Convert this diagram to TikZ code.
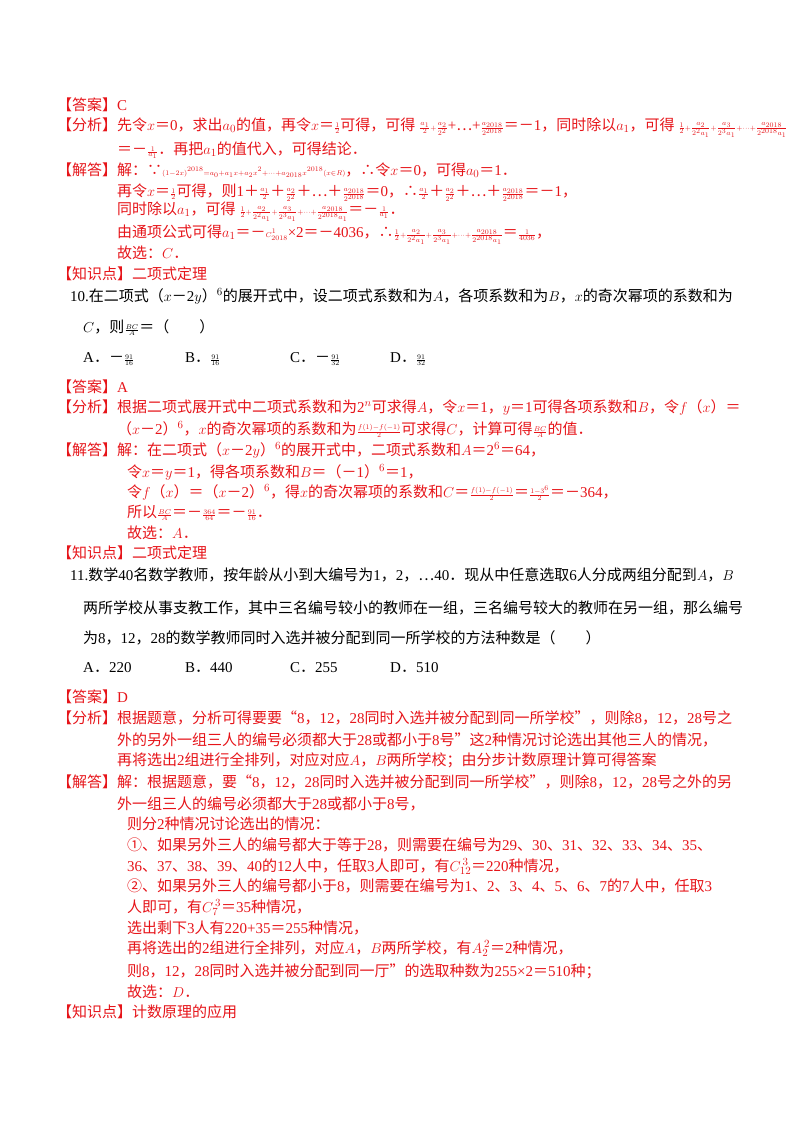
\documentclass[tikz,border=0pt]{standalone}
\usepackage{fontspec}
\setmainfont{Liberation Serif}
\newfontfamily\cjk{Noto Sans CJK SC}
\newXeTeXintercharclass\cjkcls
\def\setcls#1#2{\count255=#1 \loop\XeTeXcharclass\count255=\cjkcls\ifnum\count255<#2 \advance\count255 1 \repeat}
\setcls{"3000}{"303F}
\setcls{"4E00}{"9FFF}
\setcls{"FF00}{"FFEF}
\setcls{"2460}{"2473}
\setcls{"201C}{"201D}
\setcls{"2026}{"2026}
\setcls{"2234}{"2235}
\XeTeXinterchartoks 0 \cjkcls {\cjk}
\XeTeXinterchartoks 4095 \cjkcls {\cjk}
\XeTeXinterchartoks \cjkcls 0 {\rmfamily}
\XeTeXinterchartoks \cjkcls 4095 {\rmfamily}
\XeTeXinterchartokenstate=1
\definecolor{ans}{RGB}{230,20,25}
\tikzset{tx/.style={anchor=base west,inner sep=0pt,font=\fontsize{15}{16}\selectfont},
 an/.style={tx,text=ans}}
\newcommand\smf[1]{$\scriptscriptstyle #1$}
\begin{document}
\begin{tikzpicture}[x=1pt,y=-1pt]
\useasboundingbox (0,0) rectangle (800,1132);
\node[an] (a1) at (57,110) {【答案】C};
\node[an] (a2) at (57,130) {【分析】先令$x$＝0，求出$a_0$的值，再令$x$＝\smf{\frac12}可得，可得 \smf{\frac{a_1}{2}+\frac{a_2}{2^2}}+…+\smf{\frac{a_{2018}}{2^{2018}}}＝－1，同时除以$a_1$，可得 \smf{\frac12+\frac{a_2}{2^2a_1}+\frac{a_3}{2^3a_1}+\cdots+\frac{a_{2018}}{2^{2018}a_1}}};
\node[an] (a3) at (117,154) {＝－\smf{\frac{1}{a_1}}．再把$a_1$的值代入，可得结论．};
\node[an] (a4) at (57,175) {【解答】解：∵\smf{(1-2x)^{2018}=a_0+a_1x+a_2x^2+\cdots+a_{2018}x^{2018}(x\in R)}，∴令$x$＝0，可得$a_0$＝1．};
\node[an] (a5) at (117,196) {再令$x$＝\smf{\frac12}可得，则1＋\smf{\frac{a_1}{2}}＋\smf{\frac{a_2}{2^2}}＋…＋\smf{\frac{a_{2018}}{2^{2018}}}＝0，∴\smf{\frac{a_1}{2}}＋\smf{\frac{a_2}{2^2}}＋…＋\smf{\frac{a_{2018}}{2^{2018}}}＝－1，};
\node[an] (a6) at (117,214) {同时除以$a_1$，可得 \smf{\frac12+\frac{a_2}{2^2a_1}+\frac{a_3}{2^3a_1}+\cdots+\frac{a_{2018}}{2^{2018}a_1}}＝－\smf{\frac1{a_1}}．};
\node[an] (a7) at (117,237) {由通项公式可得$a_1$＝－\smf{C_{2018}^1}×2＝－4036，∴\smf{\frac12+\frac{a_2}{2^2a_1}+\frac{a_3}{2^3a_1}+\cdots+\frac{a_{2018}}{2^{2018}a_1}}＝\smf{\frac1{4036}}，};
\node[an] (a8) at (117,258) {故选：$C$．};
\node[an] (a9) at (57,279) {【知识点】二项式定理};
\node[tx] (q1) at (70,301) {10.在二项式（$x$－2$y$）$^6$的展开式中，设二项式系数和为$A$，各项系数和为$B$，$x$的奇次幂项的系数和为};
\node[tx] (q2) at (83,332) {$C$，则\smf{\frac{BC}{A}}＝（\hspace{2em}）};
\node[tx] (o1) at (83,362) {A．－\smf{\frac{91}{16}}};
\node[tx] (o2) at (185,362) {B．\smf{\frac{91}{16}}};
\node[tx] (o3) at (290,362) {C．－\smf{\frac{91}{32}}};
\node[tx] (o4) at (390,362) {D．\smf{\frac{91}{32}}};
\node[an] (b1) at (57,392) {【答案】A};
\node[an] (b2) at (57,412) {【分析】根据二项式展开式中二项式系数和为2$^n$可求得$A$，令$x$＝1，$y$＝1可得各项系数和$B$，令$f$（$x$）＝};
\node[an] (b3) at (117,434) {（$x$－2）$^6$，$x$的奇次幂项的系数和为\smf{\frac{f(1)-f(-1)}{2}}可求得$C$，计算可得\smf{\frac{BC}{A}}的值．};
\node[an] (b4) at (57,455) {【解答】解：在二项式（$x$－2$y$）$^6$的展开式中，二项式系数和$A$＝2$^6$＝64，};
\node[an] (b5) at (127,477) {令$x$＝$y$＝1，得各项系数和$B$＝（－1）$^6$＝1，};
\node[an] (b6) at (127,497) {令$f$（$x$）＝（$x$－2）$^6$，得$x$的奇次幂项的系数和$C$＝\smf{\frac{f(1)-f(-1)}{2}}＝\smf{\frac{1-3^6}{2}}＝－364，};
\node[an] (b7) at (127,517) {所以\smf{\frac{BC}{A}}＝－\smf{\frac{364}{64}}＝－\smf{\frac{91}{16}}．};
\node[an] (b8) at (127,538) {故选：$A$．};
\node[an] (b9) at (57,558) {【知识点】二项式定理};
\node[tx] (r1) at (70,580) {11.数学40名数学教师，按年龄从小到大编号为1，2，…40．现从中任意选取6人分成两组分配到$A$，$B$};
\node[tx] (r2) at (83,613) {两所学校从事支教工作，其中三名编号较小的教师在一组，三名编号较大的教师在另一组，那么编号};
\node[tx] (r3) at (83,643) {为8，12，28的数学教师同时入选并被分配到同一所学校的方法种数是（\hspace{2em}）};
\node[tx] (p1) at (83,672) {A．220};
\node[tx] (p2) at (185,672) {B．440};
\node[tx] (p3) at (290,672) {C．255};
\node[tx] (p4) at (390,672) {D．510};
\node[an] (c1) at (57,702) {【答案】D};
\node[an] (c2) at (57,723) {【分析】根据题意，分析可得要要“8，12，28同时入选并被分配到同一所学校”，则除8，12，28号之};
\node[an] (c3) at (117,745) {外的另外一组三人的编号必须都大于28或都小于8号”这2种情况讨论选出其他三人的情况，};
\node[an] (c4) at (117,765) {再将选出2组进行全排列，对应对应$A$，$B$两所学校；由分步计数原理计算可得答案};
\node[an] (d1) at (57,787) {【解答】解：根据题意，要“8，12，28同时入选并被分配到同一所学校”，则除8，12，28号之外的另};
\node[an] (d2) at (117,809) {外一组三人的编号必须都大于28或都小于8号，};
\node[an] (d3) at (127,829) {则分2种情况讨论选出的情况：};
\node[an] (d4) at (127,850) {①、如果另外三人的编号都大于等于28，则需要在编号为29、30、31、32、33、34、35、};
\node[an] (d5) at (127,871) {36、37、38、39、40的12人中，任取3人即可，有$C_{12}^{\,3}$＝220种情况，};
\node[an] (d6) at (127,891) {②、如果另外三人的编号都小于8，则需要在编号为1、2、3、4、5、6、7的7人中，任取3};
\node[an] (d7) at (127,912) {人即可，有$C_7^{\,3}$＝35种情况，};
\node[an] (d8) at (127,933) {选出剩下3人有220+35＝255种情况，};
\node[an] (d9) at (127,953) {再将选出的2组进行全排列，对应$A$，$B$两所学校，有$A_2^{\,2}$＝2种情况，};
\node[an] (d10) at (127,976) {则8，12，28同时入选并被分配到同一厅”的选取种数为255×2＝510种；};
\node[an] (d11) at (127,997) {故选：$D$．};
\node[an] (d12) at (57,1017) {【知识点】计数原理的应用};
\end{tikzpicture}
\end{document}
